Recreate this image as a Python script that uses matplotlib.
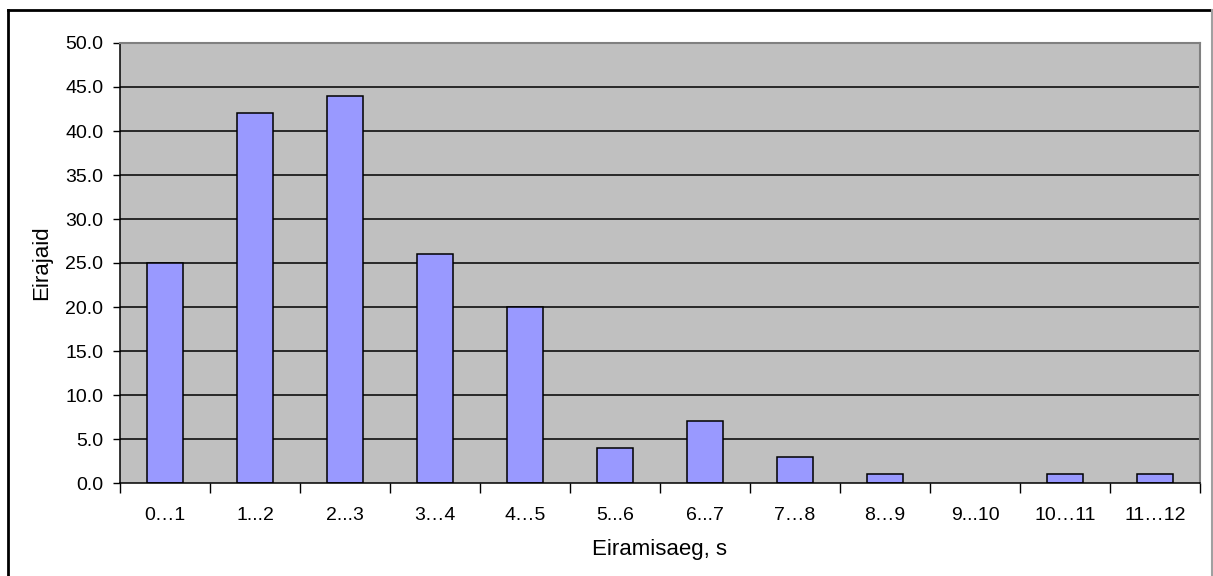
import matplotlib.pyplot as plt
import numpy as np
from matplotlib.lines import Line2D

plt.rcParams['font.family'] = ['Liberation Sans', 'DejaVu Sans']

labels = ['0…1', '1...2', '2...3', '3…4', '4…5', '5...6',
          '6...7', '7…8', '8…9', '9...10', '10…11', '11…12']
counts = [25, 42, 44, 26, 20, 4, 7, 3, 1, 0, 1, 1]
yticks = np.arange(0, 55, 5)

W, H = 1213, 576
fig = plt.figure(figsize=(W / 100, H / 100), dpi=100)
ax = fig.add_axes([120 / W, 1 - 483 / H, 1080 / W, 440 / H])

x = np.arange(len(counts))
ax.set_facecolor('#c0c0c0')
for y in yticks[1:-1]:
    ax.axhline(y, color='black', lw=1.1, zorder=1)
# empty classes get no outline
edge_w = [1.1 if c > 0 else 0 for c in counts]
ax.bar(x, counts, width=0.4, color='#9999ff', edgecolor='black',
       linewidth=edge_w, zorder=2)

ax.set_xlim(-0.5, len(counts) - 0.5)
ax.set_ylim(0, 50)
ax.set_yticks(yticks)
ax.set_yticklabels([f'{v:.1f}' for v in yticks])
ax.set_xticks(x)
ax.set_xticklabels(labels)
ax.set_xticks(np.arange(-0.5, len(counts)), minor=True)
ax.tick_params(axis='x', which='major', length=0, pad=17.5, labelsize=14)
ax.tick_params(axis='x', which='minor', length=7, width=1, direction='out')
ax.tick_params(axis='y', length=5, width=1, direction='out', pad=7,
               labelsize=14)

for side in ('top', 'right'):
    ax.spines[side].set_color('#808080')
    ax.spines[side].set_linewidth(1.5)
for side in ('left', 'bottom'):
    ax.spines[side].set_color('black')
    ax.spines[side].set_linewidth(1.1)

ax.set_xlabel('Eiramisaeg, s', fontsize=16, va='center')
ax.set_ylabel('Eirajaid', fontsize=16, va='center')
ax.xaxis.set_label_coords(0.5, (483 - 550) / 440)
ax.yaxis.set_label_coords((42 - 120) / 1080, 0.5)

# chart frame
fig.add_artist(Line2D([7.5 / W, 7.5 / W], [0, 1 - 10 / H], color='black',
                      lw=2, transform=fig.transFigure))
fig.add_artist(Line2D([7.5 / W, 1212 / W], [1 - 10 / H, 1 - 10 / H],
                      color='black', lw=2, transform=fig.transFigure))
fig.add_artist(Line2D([1211.5 / W, 1211.5 / W], [0, 1 - 10 / H],
                      color='#a0a0a0', lw=1.5, transform=fig.transFigure))

fig.savefig('out.png', dpi=100)
